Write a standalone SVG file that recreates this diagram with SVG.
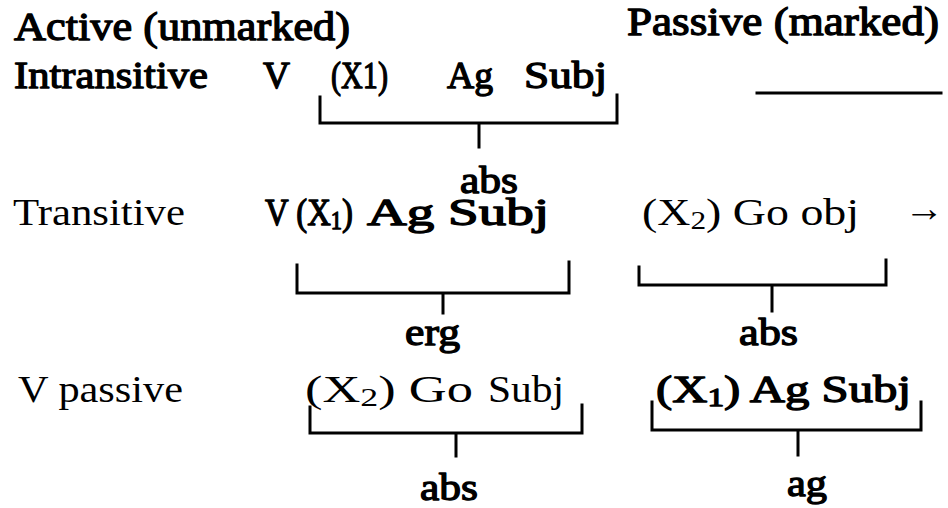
<svg xmlns="http://www.w3.org/2000/svg" width="948" height="508" viewBox="0 0 948 508">
<style>
text{font-family:"Liberation Serif","Times New Roman",serif;fill:#000;font-weight:normal;}
.b{stroke:#000;stroke-width:1.3;stroke-linejoin:round;}
.h{font-size:40px;}
.t{font-size:38px;}
.sub{font-size:26px;}
.br{fill:none;stroke:#000;stroke-width:3;stroke-linecap:square;}
</style>
<rect width="948" height="508" fill="#fff"/>
<g id="headers">
<text class="h b" x="14" y="40" textLength="336" lengthAdjust="spacingAndGlyphs">Active (unmarked)</text>
<text class="h b" x="627" y="35" textLength="312" lengthAdjust="spacingAndGlyphs">Passive (marked)</text>
</g>
<g id="row-intransitive">
<text class="t b" x="14" y="88" textLength="194" lengthAdjust="spacingAndGlyphs">Intransitive</text>
<text class="t b" x="263" y="88" textLength="27" lengthAdjust="spacingAndGlyphs">V</text>
<text class="t b" x="331" y="88" textLength="57" lengthAdjust="spacingAndGlyphs">(X1)</text>
<text class="t b" x="447" y="88" textLength="46" lengthAdjust="spacingAndGlyphs">Ag</text>
<text class="t b" x="524" y="88" textLength="83" lengthAdjust="spacingAndGlyphs">Subj</text>
<text class="t b" x="460" y="193" textLength="58" lengthAdjust="spacingAndGlyphs">abs</text>
</g>
<g id="row-transitive">
<text class="t" x="13" y="225" textLength="172" lengthAdjust="spacingAndGlyphs">Transitive</text>
<text class="t b" x="265" y="225" textLength="88" lengthAdjust="spacingAndGlyphs">V (X<tspan class="sub" dy="4">1</tspan><tspan dy="-4">)</tspan></text>
<text class="t b" x="367" y="225" textLength="182" lengthAdjust="spacingAndGlyphs">Ag Subj</text>
<text class="t" x="642" y="225" textLength="217" lengthAdjust="spacingAndGlyphs">(X<tspan class="sub" dy="4">2</tspan><tspan dy="-4">) Go obj</tspan></text>
<text class="t" x="904" y="221" textLength="40" lengthAdjust="spacingAndGlyphs">→</text>
<text class="t b" x="405" y="345" textLength="55" lengthAdjust="spacingAndGlyphs">erg</text>
<text class="t b" x="739" y="345" textLength="59" lengthAdjust="spacingAndGlyphs">abs</text>
</g>
<g id="row-passive">
<text class="t" x="18" y="402" textLength="165" lengthAdjust="spacingAndGlyphs">V passive</text>
<text class="t" x="305" y="402" textLength="168" lengthAdjust="spacingAndGlyphs">(X<tspan class="sub" dy="4">2</tspan><tspan dy="-4">) Go</tspan></text>
<text class="t" x="488" y="402" textLength="76" lengthAdjust="spacingAndGlyphs">Subj</text>
<text class="t b" x="656" y="402" textLength="255" lengthAdjust="spacingAndGlyphs">(X<tspan class="sub" dy="4">1</tspan><tspan dy="-4">) Ag Subj</tspan></text>
<text class="t b" x="420" y="500" textLength="58" lengthAdjust="spacingAndGlyphs">abs</text>
<text class="t b" x="787" y="496" textLength="40" lengthAdjust="spacingAndGlyphs">ag</text>
</g>
<g id="connectors">
<path class="br" d="M320 97 V123 H617 V95 M479 123 V147"/>
<path class="br" d="M757 93 H941"/>
<path class="br" d="M297 265 V293 H569 V262 M443 293 V313"/>
<path class="br" d="M639 267 V285 H886 V260 M772 285 V311"/>
<path class="br" d="M310 407 V433 H582 V405 M456 433 V456"/>
<path class="br" d="M652 402 V430 H921 V402 M798 430 V455"/>
</g>
</svg>
